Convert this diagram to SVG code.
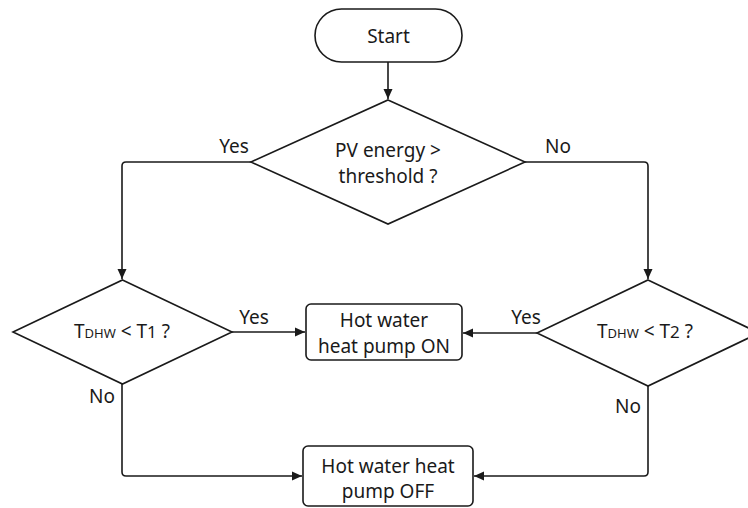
<svg xmlns="http://www.w3.org/2000/svg" width="748" height="508" viewBox="0 0 748 508">
<defs>
<marker id="arr" viewBox="0 0 10 10" refX="10" refY="5" markerWidth="10" markerHeight="10" markerUnits="userSpaceOnUse" orient="auto">
<path d="M0,0.5 L10,5 L0,9.5 Z" fill="#1a1a1a"/>
</marker>
<style>
.shape{fill:#fff;stroke:#1a1a1a;stroke-width:1.6}
.edge{fill:none;stroke:#1a1a1a;stroke-width:1.6;stroke-linejoin:round}
text{font-family:"Noto Sans","Open Sans","DejaVu Sans",sans-serif;font-size:19px;fill:#1a1a1a}
.c{text-anchor:middle}
.sm{font-size:13px}
.num{font-size:17px}
</style>
</defs>
<rect width="748" height="508" fill="#fff"/>
<g id="connectors">
<path class="edge" d="M388,62 L388,99" marker-end="url(#arr)"/>
<path class="edge" d="M251,162 L126,162 Q122,162 122,166 L122,279" marker-end="url(#arr)"/>
<path class="edge" d="M525,162 L644,162 Q648,162 648,166 L648,279" marker-end="url(#arr)"/>
<path class="edge" d="M232,332 L305,332" marker-end="url(#arr)"/>
<path class="edge" d="M537,333 L463,333" marker-end="url(#arr)"/>
<path class="edge" d="M122,383 L122,472 Q122,476 126,476 L302,476" marker-end="url(#arr)"/>
<path class="edge" d="M648,385 L648,472 Q648,476 644,476 L474,476" marker-end="url(#arr)"/>
<text x="234" y="153" class="c">Yes</text>
<text x="558" y="153" class="c">No</text>
<text x="254" y="324" class="c">Yes</text>
<text x="526" y="324" class="c">Yes</text>
<text x="102" y="403" class="c">No</text>
<text x="628" y="413" class="c">No</text>
</g>
<g id="start">
<rect class="shape" x="315" y="9" width="147" height="53" rx="26.5"/>
<text x="388.5" y="43" class="c">Start</text>
</g>
<g id="pv-check">
<path class="shape" d="M388,100 L525,162 L388,224 L251,162 Z"/>
<text x="388" y="157" class="c">PV energy &gt;</text>
<text x="388" y="183" class="c">threshold ?</text>
</g>
<g id="t1-check">
<path class="shape" d="M122.5,280 L232,332 L122.5,384 L13,332 Z"/>
<text x="122" y="338" class="c">T<tspan class="sm">DHW</tspan> &lt; T<tspan class="num">1</tspan> ?</text>
</g>
<g id="t2-check">
<path class="shape" d="M648,280 L759,333 L648,386 L537,333 Z"/>
<text x="645" y="338" class="c">T<tspan class="sm">DHW</tspan> &lt; T<tspan class="num">2</tspan> ?</text>
</g>
<g id="hp-on">
<rect class="shape" x="306" y="304" width="156" height="56" rx="5"/>
<text x="384" y="327" class="c">Hot water</text>
<text x="384" y="353" class="c">heat pump ON</text>
</g>
<g id="hp-off">
<rect class="shape" x="303" y="446" width="170" height="60" rx="5"/>
<text x="388" y="473" class="c">Hot water heat</text>
<text x="388" y="498" class="c">pump OFF</text>
</g>
</svg>
